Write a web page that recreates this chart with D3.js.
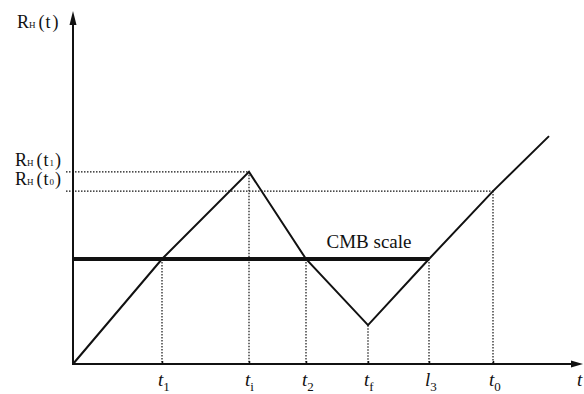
<!DOCTYPE html>
<html>
<head>
<meta charset="utf-8">
<script src="https://cdn.jsdelivr.net/npm/d3@7/dist/d3.min.js"></script>
<style>
  html, body { margin: 0; padding: 0; background: #fff; }
  svg { display: block; }
  text { font-family: "Liberation Serif", "DejaVu Serif", serif; fill: #111; }
</style>
</head>
<body>
<svg id="chart" width="584" height="394"></svg>
<script>
// Hubble radius R_H(t) against time (schematic units)
const curveTimes  = [0, 1.78, 3.52, 4.66, 5.9, 7.12, 8.4, 9.52];
const curveValues = [0, 3.0, 5.49, 3.0, 1.11, 3.0, 4.94, 6.51];

const cmbScale = 3.0;           // CMB scale level
const cmbEnd = 7.12;            // where the CMB scale line stops

// Marked times along the horizontal axis
const tickNames  = ["t", "t", "t", "t", "l", "t"];
const tickSubs   = ["1", "i", "2", "f", "3", "0"];
const tickTimes  = [1.78, 3.52, 4.66, 5.9, 7.12, 8.4];
const tickLevels = [3.0, 5.49, 3.0, 1.11, 3.0, 4.94];

// Marked levels along the vertical axis
const levelSubs   = ["1", "0"];
const levelValues = [5.49, 4.94];
const levelTimes  = [3.52, 8.4];

const svg = d3.select("#chart");
const x = d3.scaleLinear().domain([0, 10]).range([73, 573]);
const y = d3.scaleLinear().domain([0, 10]).range([364, 14]);

const ink = "#111";

// Dotted guides: verticals down to the time axis
svg.append("g").selectAll("line")
  .data(tickTimes)
  .join("line")
  .attr("x1", d => x(d)).attr("x2", d => x(d))
  .attr("y1", (d, i) => y(tickLevels[i])).attr("y2", y(0))
  .attr("stroke", ink).attr("stroke-width", 1.2)
  .attr("stroke-dasharray", "1.5,1.5");

// Dotted guides: horizontals from just left of the vertical axis
svg.append("g").selectAll("line")
  .data(levelValues)
  .join("line")
  .attr("x1", x(0) - 7).attr("x2", (d, i) => x(levelTimes[i]))
  .attr("y1", d => y(d)).attr("y2", d => y(d))
  .attr("stroke", ink).attr("stroke-width", 1.2)
  .attr("stroke-dasharray", "1.5,1.5");

// Axes with arrowheads
const axisG = svg.append("g");
axisG.append("line")
  .attr("x1", x(0)).attr("x2", 578).attr("y1", y(0)).attr("y2", y(0))
  .attr("stroke", ink).attr("stroke-width", 2);
axisG.append("path")
  .attr("d", `M583,${y(0)} L571,${y(0) - 3.5} L571,${y(0) + 3.5} Z`)
  .attr("fill", ink);
axisG.append("line")
  .attr("x1", x(0)).attr("x2", x(0)).attr("y1", y(0) + 1).attr("y2", 20)
  .attr("stroke", ink).attr("stroke-width", 2);
axisG.append("path")
  .attr("d", `M${x(0)},11 L${x(0) - 3.5},25 L${x(0) + 3.5},25 Z`)
  .attr("fill", ink);

// Small ticks on the time axis
svg.append("g")
  .attr("transform", `translate(0,${y(0)})`)
  .call(d3.axisBottom(x).tickValues(tickTimes).tickSizeInner(-3).tickSizeOuter(0).tickFormat(""))
  .call(g => g.select(".domain").remove())
  .call(g => g.selectAll(".tick line").attr("stroke", ink).attr("stroke-width", 1.5));

// CMB scale line
svg.append("line")
  .attr("x1", x(0)).attr("x2", x(cmbEnd))
  .attr("y1", y(cmbScale)).attr("y2", y(cmbScale))
  .attr("stroke", ink).attr("stroke-width", 4);

svg.append("text")
  .attr("x", 369).attr("y", y(cmbScale) - 11)
  .attr("text-anchor", "middle")
  .attr("font-size", 19)
  .text("CMB scale");

// Hubble radius curve
const line = d3.line().x(d => x(d[0])).y(d => y(d[1]));
svg.append("path")
  .datum(curveTimes.map((t, i) => [t, curveValues[i]]))
  .attr("d", line)
  .attr("fill", "none").attr("stroke", ink).attr("stroke-width", 2)
  .attr("stroke-linejoin", "miter");

// Time labels with subscripts
const tl = svg.append("g").selectAll("text")
  .data(tickTimes)
  .join("text")
  .attr("x", d => x(d) - 4).attr("y", 386)
  .attr("font-size", 19);
tl.append("tspan").attr("font-style", "italic").text((d, i) => tickNames[i]);
tl.append("tspan").attr("font-size", 13).attr("dy", 5).text((d, i) => tickSubs[i]);

// Axis title for time
svg.append("text")
  .attr("x", 577).attr("y", 386)
  .attr("font-size", 19).attr("font-style", "italic")
  .text("t");

// Level labels R_H(t_x)
function rhLabel(sel, sub) {
  sel.append("tspan").attr("font-size", 18).text("R");
  sel.append("tspan").attr("font-size", 9).text("H");
  sel.append("tspan").attr("font-size", 18).attr("dx", 3).attr("letter-spacing", 1).text("(t");
  if (sub !== null) sel.append("tspan").attr("font-size", 9).text(sub);
  sel.append("tspan").attr("font-size", 18).attr("dx", 1).text(")");
}

svg.append("g").selectAll("text")
  .data(levelValues)
  .join("text")
  .attr("x", 15).attr("y", d => y(d) - 6)
  .each(function(d, i) { rhLabel(d3.select(this), levelSubs[i]); });

// Axis title for R_H(t)
svg.append("text")
  .attr("x", 17).attr("y", 28)
  .call(s => rhLabel(s, null));
</script>
</body>
</html>
